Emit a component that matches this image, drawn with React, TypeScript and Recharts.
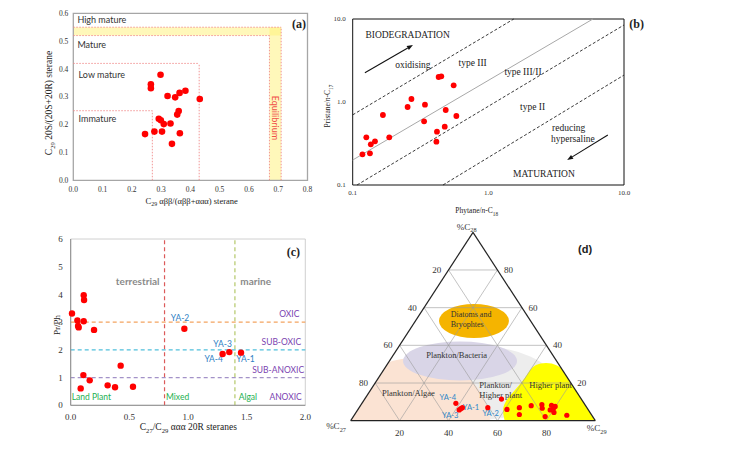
import React from "react"
import {
  ScatterChart,
  Scatter,
  XAxis,
  YAxis,
  ReferenceLine,
  ReferenceArea,
  ReferenceDot,
} from "recharts"

const SERIF = "'Liberation Serif', 'Times New Roman', serif"
const SANS = "Lato, 'Open Sans', sans-serif"
const ARIAL = "'Liberation Sans', Arial, sans-serif"

// (a) C29 sterane isomerisation
const abbRatio = [0.265, 0.265, 0.298, 0.322, 0.348, 0.363, 0.383, 0.432, 0.36, 0.355, 0.292, 0.299, 0.309, 0.332, 0.245, 0.277, 0.303, 0.364, 0.337]
const s20Ratio = [0.345, 0.331, 0.379, 0.303, 0.298, 0.314, 0.322, 0.292, 0.249, 0.236, 0.221, 0.216, 0.202, 0.204, 0.166, 0.175, 0.175, 0.169, 0.131]
const aXTicks = [0, 0.1, 0.2, 0.3, 0.4, 0.5, 0.6, 0.7, 0.8]
const aYTicks = [0, 0.1, 0.2, 0.3, 0.4, 0.5, 0.6]
const immatureLimit = [0.27, 0.25]
const lowMatureLimit = [0.43, 0.42]
const equilibriumX = [0.67, 0.71]
const equilibriumY = [0.52, 0.55]

// (b) Pr/n-C17 vs Ph/n-C18
const phytaneC18 = [0.118, 0.134, 0.136, 0.126, 0.146, 0.186, 0.167, 0.254, 0.271, 0.341, 0.336, 0.43, 0.45, 0.555, 0.485, 0.581, 0.477, 0.418, 0.414]
const pristaneC17 = [0.234, 0.241, 0.309, 0.375, 0.336, 0.375, 0.697, 0.871, 1.087, 0.929, 0.585, 2.0, 2.04, 1.59, 0.801, 0.678, 0.505, 0.439, 0.333]
const logTicks = [0.1, 1, 10]
// [x1, y1, x2, y2] of the kerogen boundaries
const kerogenLines = [
  [0.1, 0.7, 1.54, 10],
  [0.1, 0.2, 5.9, 10],
  [0.1076, 0.1, 10, 8.47],
  [0.463, 0.1, 10, 2.11],
]

// (c) Pr/Ph vs C27/C29
const c27c29 = [0.011, 0.057, 0.063, 0.068, 0.111, 0.114, 0.111, 0.199, 0.108, 0.162, 0.085, 0.315, 0.378, 0.426, 0.531, 0.969, 1.295, 1.352, 1.452]
const prPh = [3.31, 3.06, 2.86, 2.81, 3.97, 3.8, 3.03, 2.72, 1.09, 0.9, 0.61, 0.72, 0.65, 1.43, 0.67, 2.76, 1.85, 1.92, 1.9]
const cXTicks = [0, 0.5, 1, 1.5, 2]
const cYTicks = [0, 1, 2, 3, 4, 5, 6]
const sourceLimits = [0.8, 1.4]
const redoxLimits = [3, 2, 1]

// (d) C27-C28-C29 sterane ternary
const pctC27 = [52.4, 52.8, 51.8, 50.9, 40.5, 32.6, 33.1, 27.6, 29.4, 22.2, 17.6, 18.4, 19.4, 13.8, 13.7, 12.6, 14.7, 10.2, 15.6]
const pctC28 = [9.2, 5.7, 6.4, 6.9, 6.9, 11.5, 6.0, 6.9, 3.3, 8.0, 8.5, 6.6, 2.2, 8.2, 6.7, 7.6, 4.4, 2.9, 5.7]
const pctC29 = [38.4, 41.5, 41.8, 42.2, 52.6, 55.9, 60.9, 65.5, 67.3, 69.8, 73.9, 75.0, 78.4, 78.0, 79.6, 79.8, 80.9, 86.9, 78.7]
const ternaryTicks = [20, 40, 60, 80]

const toTernary = (c27: number, c28: number, c29: number) => {
  const s = c27 + c28 + c29
  return { x: ((c29 + c28 / 2) / s) * 100, y: (c28 / s) * 100 }
}

const aData = abbRatio.map((x, i) => ({ x, y: s20Ratio[i] }))
const bData = phytaneC18.map((x, i) => ({ x, y: pristaneC17[i] }))
const cData = c27c29.map((x, i) => ({ x, y: prPh[i] }))
const dData = pctC27.map((a, i) => toTernary(a, pctC28[i], pctC29[i]))

const dot = (r: number) => (p: any) => <circle cx={p.cx} cy={p.cy} r={r} fill="#ff0000" />

type NoteStyle = { size?: number; color?: string; font?: string; anchor?: string; weight?: string; rotate?: number }

const note = (key: string, x: number, y: number, content: React.ReactNode, s: NoteStyle = {}) => (
  <ReferenceDot
    key={key}
    x={x}
    y={y}
    r={0}
    ifOverflow="visible"
    shape={(p: any) => (
      <text
        x={p.cx}
        y={p.cy}
        textAnchor={(s.anchor as any) ?? "middle"}
        dominantBaseline="central"
        fontSize={s.size ?? 9}
        fill={s.color ?? "#222"}
        fontFamily={s.font ?? SERIF}
        fontWeight={s.weight ?? "normal"}
        transform={s.rotate ? `rotate(${s.rotate}, ${p.cx}, ${p.cy})` : undefined}
      >
        {content}
      </text>
    )}
  />
)

// subscript placed at the end of a label
const sub = (t: string, size: number) => (
  <tspan dy={size * 0.3} fontSize={size * 0.7}>{t}</tspan>
)

const arrowShape = (p: any) => {
  const { x1, y1, x2, y2 } = p
  const a = Math.atan2(y2 - y1, x2 - x1)
  const bx = x2 - 6 * Math.cos(a)
  const by = y2 - 6 * Math.sin(a)
  const w = 2.3
  const pts = `${x2},${y2} ${bx - w * Math.sin(a)},${by + w * Math.cos(a)} ${bx + w * Math.sin(a)},${by - w * Math.cos(a)}`
  return (
    <g>
      <line x1={x1} y1={y1} x2={bx} y2={by} stroke="#111" strokeWidth={1.1} />
      <polygon points={pts} fill="#111" />
    </g>
  )
}

const Title = ({ x, y, size, rotate, children }: any) => (
  <div
    style={{
      position: "absolute",
      left: x,
      top: y,
      transform: `translate(-50%, -50%)${rotate ? " rotate(-90deg)" : ""}`,
      fontFamily: SERIF,
      fontSize: size,
      lineHeight: 1,
      whiteSpace: "nowrap",
      color: "#222",
    }}
  >
    {children}
  </div>
)

const S = ({ children }: any) => <sub style={{ fontSize: "0.7em", lineHeight: 0 }}>{children}</sub>

const tickStyle = (size: number) => ({ fontSize: size, fill: "#333", fontFamily: SERIF })
const redDot = { stroke: "#f08a8a", strokeWidth: 0.9, strokeDasharray: "1.5 1.5" }

const PanelA = () => (
  <ScatterChart width={330} height={215} margin={{ top: 13.3, right: 22.5, left: 0, bottom: 0 }}>
    <XAxis type="number" dataKey="x" domain={[0, 0.8]} ticks={aXTicks} tickFormatter={(v) => v.toFixed(1)}
      height={34.7} tickSize={0} tickMargin={6} axisLine={false} tick={tickStyle(7.5)} />
    <YAxis type="number" dataKey="y" domain={[0, 0.6]} ticks={aYTicks} tickFormatter={(v) => v.toFixed(1)}
      width={73.3} tickSize={0} tickMargin={5} axisLine={false} tick={tickStyle(7.5)} />
    <ReferenceArea x1={0} x2={equilibriumX[1]} y1={equilibriumY[0]} y2={equilibriumY[1]} fill="#fff176" fillOpacity={0.5} stroke="none" />
    <ReferenceArea x1={equilibriumX[0]} x2={equilibriumX[1]} y1={0} y2={equilibriumY[1]} fill="#fff176" fillOpacity={0.5} stroke="none" />
    <ReferenceLine segment={[{ x: 0, y: immatureLimit[1] }, { x: immatureLimit[0], y: immatureLimit[1] }]} {...redDot} />
    <ReferenceLine segment={[{ x: immatureLimit[0], y: 0 }, { x: immatureLimit[0], y: immatureLimit[1] }]} {...redDot} />
    <ReferenceLine segment={[{ x: 0, y: lowMatureLimit[1] }, { x: lowMatureLimit[0], y: lowMatureLimit[1] }]} {...redDot} />
    <ReferenceLine segment={[{ x: lowMatureLimit[0], y: 0 }, { x: lowMatureLimit[0], y: lowMatureLimit[1] }]} {...redDot} />
    <ReferenceLine segment={[{ x: 0, y: equilibriumY[0] }, { x: equilibriumX[0], y: equilibriumY[0] }]} {...redDot} />
    <ReferenceLine segment={[{ x: 0, y: equilibriumY[1] }, { x: equilibriumX[1], y: equilibriumY[1] }]} {...redDot} />
    <ReferenceLine segment={[{ x: equilibriumX[0], y: 0 }, { x: equilibriumX[0], y: equilibriumY[0] }]} {...redDot} />
    <ReferenceLine segment={[{ x: equilibriumX[1], y: 0 }, { x: equilibriumX[1], y: equilibriumY[1] }]} {...redDot} />
    <ReferenceArea x1={0} x2={0.8} y1={0} y2={0.6} fill="none" stroke="#a6a6a6" strokeWidth={1.3} />
    {note("hm", 0.014, 0.577, "High mature", { font: SANS, size: 9, anchor: "start", color: "#333" })}
    {note("m", 0.014, 0.487, "Mature", { font: SANS, size: 9, anchor: "start", color: "#333" })}
    {note("lm", 0.018, 0.38, "Low mature", { font: SANS, size: 9, anchor: "start", color: "#333" })}
    {note("im", 0.018, 0.223, "Immature", { font: SANS, size: 9, anchor: "start", color: "#333" })}
    {note("eq", 0.69, 0.224, "Equilibrium", { font: SANS, size: 9, color: "#f0504a", rotate: 90 })}
    {note("tag", 0.771, 0.562, "(a)", { size: 12, weight: "bold" })}
    <Scatter data={aData} shape={dot(3.3)} isAnimationActive={false} />
  </ScatterChart>
)

const PanelB = () => (
  <ScatterChart width={350} height={220} margin={{ top: 19, right: 26, left: 0, bottom: 0 }}>
    <XAxis type="number" dataKey="x" scale="log" domain={[0.1, 10]} ticks={logTicks} allowDataOverflow
      tickFormatter={(v) => v.toFixed(1)} height={35} tickSize={0} tickMargin={5} axisLine={false} tick={tickStyle(7)} />
    <YAxis type="number" dataKey="y" scale="log" domain={[0.1, 10]} ticks={logTicks} allowDataOverflow
      tickFormatter={(v) => v.toFixed(1)} width={52.7} tickSize={0} tickMargin={7} axisLine={false} tick={tickStyle(7)} />
    {kerogenLines.map((l, i) => (
      <ReferenceLine
        key={`k${i}`}
        segment={[{ x: l[0], y: l[1] }, { x: l[2], y: l[3] }]}
        ifOverflow="visible"
        stroke={i === 1 ? "#a8a8a8" : "#222"}
        strokeWidth={i === 1 ? 1 : 0.9}
        strokeDasharray={i === 1 ? undefined : "3 2"}
      />
    ))}
    <ReferenceLine segment={[{ x: 0.123, y: 2.25 }, { x: 0.278, y: 4.86 }]} ifOverflow="visible" shape={arrowShape} />
    <ReferenceLine segment={[{ x: 7.6, y: 0.4 }, { x: 3.81, y: 0.2 }]} ifOverflow="visible" shape={arrowShape} />
    <ReferenceArea x1={0.1} x2={10} y1={0.1} y2={10} fill="none" stroke="#111" strokeWidth={1} ifOverflow="visible" />
    {note("bio", 0.254, 6.41, "BIODEGRADATION", { size: 9.5 })}
    {note("ox", 0.278, 2.79, "oxidising", { size: 9.5 })}
    {note("t3", 0.766, 2.93, "type III", { size: 9.5 })}
    {note("t32", 1.8, 2.28, "type III/II", { size: 9.5 })}
    {note("t2", 2.12, 0.878, "type II", { size: 9.5 })}
    {note("red", 3.91, 0.49, "reducing", { size: 9.5 })}
    {note("hyp", 4.2, 0.361, "hypersaline", { size: 9.5 })}
    {note("mat", 2.57, 0.1346, "MATURATION", { size: 9.5 })}
    {note("tag", 12.4, 8.63, "(b)", { size: 12, weight: "bold" })}
    <Scatter data={bData} shape={dot(2.9)} isAnimationActive={false} />
  </ScatterChart>
)

const PanelC = () => {
  const green = { font: SANS, size: 8.5, anchor: "start", color: "#22b04f" }
  const purple = { font: SANS, size: 8.5, anchor: "end", color: "#7a3fb0" }
  const blue = { font: SANS, size: 8.5, color: "#2e80c4" }
  const gray = { font: SANS, size: 10, color: "#8a8a8a", weight: "bold" }
  return (
    <ScatterChart width={320} height={225} margin={{ top: 14, right: 14.7, left: 0, bottom: 0 }}>
      <XAxis type="number" dataKey="x" domain={[0, 2]} ticks={cXTicks} tickFormatter={(v) => v.toFixed(1)}
        height={44.7} tickSize={0} tickMargin={8} axisLine={{ stroke: "#8c8c8c" }} tick={tickStyle(9)} />
      <YAxis type="number" dataKey="y" domain={[0, 6]} ticks={cYTicks}
        width={70.7} tickSize={0} tickMargin={8} axisLine={{ stroke: "#8c8c8c" }} tick={tickStyle(9)} />
      <ReferenceArea x1={0} x2={2} y1={0} y2={6} fill="none" stroke="#c4c4c4" strokeWidth={0.8} />
      <ReferenceLine x={sourceLimits[0]} stroke="#dc5a5a" strokeWidth={1.2} strokeDasharray="4 3" />
      <ReferenceLine x={sourceLimits[1]} stroke="#b4c86a" strokeWidth={1.2} strokeDasharray="4 3" />
      <ReferenceLine y={redoxLimits[0]} stroke="#f4a460" strokeWidth={1.2} strokeDasharray="4 3" />
      <ReferenceLine y={redoxLimits[1]} stroke="#50c0dc" strokeWidth={1.2} strokeDasharray="4 3" />
      <ReferenceLine y={redoxLimits[2]} stroke="#a392c8" strokeWidth={1.2} strokeDasharray="4 3" />
      {note("ter", 0.571, 4.48, "terrestrial", gray)}
      {note("mar", 1.577, 4.5, "marine", gray)}
      {note("oxic", 1.95, 3.31, "OXIC", purple)}
      {note("sox", 1.965, 2.3, "SUB-OXIC", purple)}
      {note("sanox", 1.99, 1.29, "SUB-ANOXIC", purple)}
      {note("anox", 1.97, 0.3, "ANOXIC", purple)}
      {note("lp", 0.009, 0.29, "Land Plant", green)}
      {note("mix", 0.8125, 0.29, "Mixed", green)}
      {note("alg", 1.432, 0.29, "Algal", green)}
      {note("ya2", 0.932, 3.16, "YA-2", blue)}
      {note("ya3", 1.295, 2.22, "YA-3", blue)}
      {note("ya4", 1.219, 1.67, "YA-4", blue)}
      {note("ya1", 1.49, 1.67, "YA-1", blue)}
      {note("tag", 1.898, 5.52, "(c)", { size: 12, weight: "bold" })}
      <Scatter data={cData} shape={dot(3.2)} isAnimationActive={false} />
    </ScatterChart>
  )
}

// region outlines in ternary plot units (x across, y up, 0-100)
const higherPlantEdge = [
  [63.5, -3], [61.9, 5.7], [63.5, 11], [67.2, 16.3], [71.3, 22.7], [74.1, 28.5],
  [77.4, 30.6], [82.3, 30.6], [86.4, 28], [96, 18], [112, -3],
]

const ternaryRegions = (p: any) => {
  const { x, y, width, height } = p
  const X = (u: number) => x + (u / 100) * width
  const Y = (v: number) => y + height - (v / 100) * height
  const tri = `${X(0)},${Y(0)} ${X(50)},${Y(100)} ${X(100)},${Y(0)}`
  const ell = (u: number, v: number, ru: number, rv: number, fill: string) => (
    <ellipse cx={X(u)} cy={Y(v)} rx={(ru / 100) * width} ry={(rv / 100) * height} fill={fill} />
  )
  const pts = higherPlantEdge.map(([u, v]) => [X(u), Y(v)])
  const mid = (a: number[], b: number[]) => `${(a[0] + b[0]) / 2},${(a[1] + b[1]) / 2}`
  let d = `M${pts[0][0]},${pts[0][1]} L${mid(pts[0], pts[1])}`
  for (let i = 1; i < pts.length - 1; i++) d += ` Q${pts[i][0]},${pts[i][1]} ${mid(pts[i], pts[i + 1])}`
  d += ` L${pts[pts.length - 1][0]},${pts[pts.length - 1][1]} Z`
  return (
    <g>
      <defs>
        <clipPath id="ternaryClip">
          <polygon points={tri} />
        </clipPath>
      </defs>
      <g clipPath="url(#ternaryClip)">
        {ell(48.8, 20, 34.8, 20, "#ededed")}
        {ell(26.3, -2.3, 30.7, 35.6, "#fbe3d3")}
        {ell(44.7, 31.7, 23.3, 10.4, "#d9d5e7")}
        {ell(50.4, 52.9, 14.3, 9, "#f5b400")}
        <path d={d} fill="#ffff00" />
      </g>
    </g>
  )
}

const PanelD = () => {
  const grid = { stroke: "#9a9a9a", strokeWidth: 0.6 }
  const edge = { stroke: "#222", strokeWidth: 1.2 }
  const lbl = { size: 8.5, color: "#333" }
  const blue = { font: SANS, size: 7.5, color: "#2e86c8" }
  return (
    <ScatterChart width={310} height={235} margin={{ top: 17.3, right: 24.7, bottom: 29.3, left: 40.7 }}>
      <XAxis type="number" dataKey="x" domain={[0, 100]} hide />
      <YAxis type="number" dataKey="y" domain={[0, 100]} hide />
      <ReferenceArea x1={0} x2={100} y1={0} y2={100} ifOverflow="visible" shape={ternaryRegions} />
      {ternaryTicks.map((k) => (
        <ReferenceLine key={`h${k}`} segment={[{ x: k / 2, y: k }, { x: 100 - k / 2, y: k }]} {...grid} />
      ))}
      {ternaryTicks.map((k) => (
        <ReferenceLine key={`l${k}`} segment={[{ x: k, y: 0 }, { x: k + (100 - k) / 2, y: 100 - k }]} {...grid} />
      ))}
      {ternaryTicks.map((k) => (
        <ReferenceLine key={`r${k}`} segment={[{ x: 100 - k, y: 0 }, { x: (100 - k) / 2, y: 100 - k }]} {...grid} />
      ))}
      <ReferenceLine segment={[{ x: 0, y: 0 }, { x: 100, y: 0 }]} {...edge} />
      <ReferenceLine segment={[{ x: 0, y: 0 }, { x: 50, y: 100 }]} {...edge} />
      <ReferenceLine segment={[{ x: 50, y: 100 }, { x: 100, y: 0 }]} {...edge} />
      {ternaryTicks.map((k) => note(`tl${k}`, k / 2 - 4.8, k, String(100 - k), { size: 9, color: "#333" }))}
      {ternaryTicks.map((k) => note(`tr${k}`, 100 - k / 2 + 4.5, k, String(k), { size: 9, color: "#333" }))}
      {ternaryTicks.map((k) => note(`tb${k}`, k, -6.7, String(k), { size: 9, color: "#333" }))}
      {note("v28", 47.4, 103, <>%C{sub("28", 9)}</>, { size: 9, color: "#333" })}
      {note("v27", -6, -2.8, <>%C{sub("27", 9)}</>, { size: 9, color: "#333" })}
      {note("v29", 100.6, -4, <>%C{sub("29", 9)}</>, { size: 9, color: "#333" })}
      {note("dia1", 40.9, 56.5, "Diatoms and", { ...lbl, size: 8, anchor: "start" })}
      {note("dia2", 40.9, 51.3, "Bryophtes", { ...lbl, size: 8, anchor: "start" })}
      {note("pb", 43.3, 34.9, "Plankton/Bacteria", lbl)}
      {note("pa", 23.6, 14.9, "Plankton/Algae", lbl)}
      {note("ph1", 52.6, 18.9, "Plankton/", { ...lbl, anchor: "start" })}
      {note("ph2", 52.6, 13.6, "Higher plant", { ...lbl, anchor: "start" })}
      {note("hp", 73, 18.8, "Higher plant", { ...lbl, anchor: "start" })}
      {note("ya4", 39.7, 12.4, "YA-4", blue)}
      {note("ya1", 49.2, 6.9, "YA-1", blue)}
      {note("ya3", 40.7, 3, "YA-3", blue)}
      {note("ya2", 57.2, 3.7, "YA-2", blue)}
      {note("tag", 95.8, 91, "(d)", { font: ARIAL, size: 11, weight: "bold" })}
      <Scatter data={dData} shape={dot(2.6)} isAnimationActive={false} />
    </ScatterChart>
  )
}

export default function App() {
  return (
    <div style={{ position: "relative", width: 732, height: 458, background: "#fff", overflow: "hidden" }}>
      <style>{"body{margin:0}"}</style>
      <div style={{ position: "absolute", left: 0, top: 0 }}><PanelA /></div>
      <div style={{ position: "absolute", left: 300, top: 0 }}><PanelB /></div>
      <div style={{ position: "absolute", left: 0, top: 225 }}><PanelC /></div>
      <div style={{ position: "absolute", left: 310, top: 215 }}><PanelD /></div>
      <Title x={50} y={103} size={9.5} rotate>C<S>29</S> 20S/(20S+20R) sterane</Title>
      <Title x={191.7} y={201} size={8.5}>C<S>29</S> αββ/(αββ+ααα) sterane</Title>
      <Title x={328} y={106} size={7.5} rotate>Pristane/<i>n</i>-C<S>17</S></Title>
      <Title x={476.7} y={210.7} size={7.5}>Phytane/<i>n</i>-C<S>18</S></Title>
      <Title x={56.7} y={325} size={9} rotate>Pr/Ph</Title>
      <Title x={188.3} y={428.3} size={9.5}>C<S>27</S>/C<S>29</S> ααα 20R steranes</Title>
    </div>
  )
}
